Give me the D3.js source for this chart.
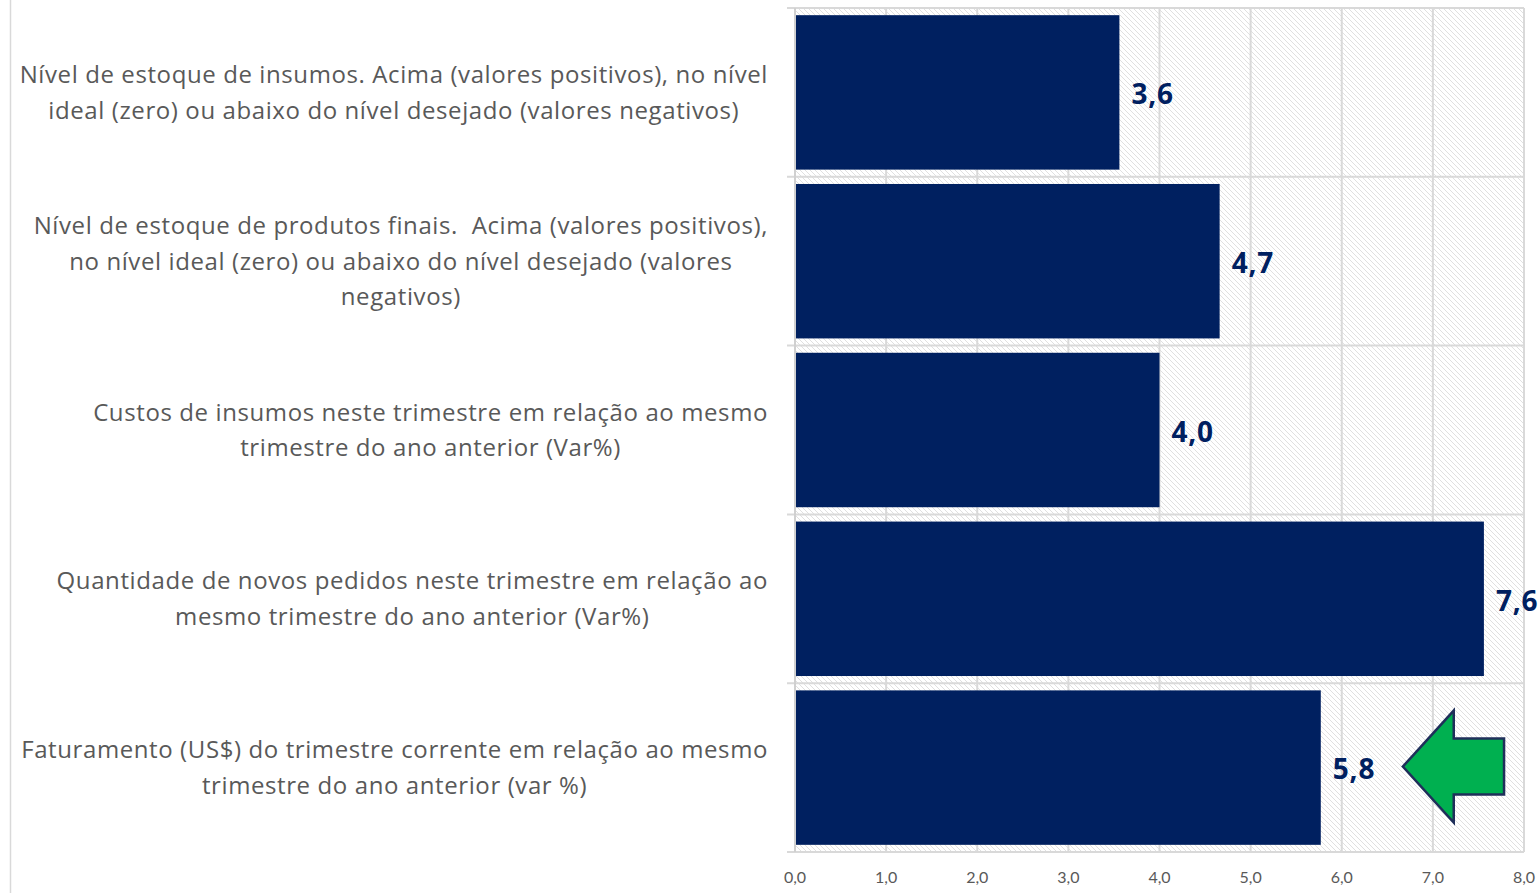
<!DOCTYPE html>
<html><head><meta charset="utf-8">
<script src="https://cdn.jsdelivr.net/npm/d3@7"></script>
<style>body{margin:0;background:#fff;overflow:hidden}</style>
</head><body>
<svg id="c" width="1540" height="893"></svg>
<script>
const categories = [
  ["Nível de estoque de insumos. Acima (valores positivos), no nível","ideal (zero) ou abaixo do nível desejado (valores negativos)"],
  ["Nível de estoque de produtos finais.  Acima (valores positivos),","no nível ideal (zero) ou abaixo do nível desejado (valores","negativos)"],
  ["Custos de insumos neste trimestre em relação ao mesmo","trimestre do ano anterior (Var%)"],
  ["Quantidade de novos pedidos neste trimestre em relação ao","mesmo trimestre do ano anterior (Var%)"],
  ["Faturamento (US$) do trimestre corrente em relação ao mesmo","trimestre do ano anterior (var %)"]
];
const values = [3.56, 4.66, 4.0, 7.56, 5.77];
const tickValues = [0,1,2,3,4,5,6,7,8];
const tickLabels = ["0,0","1,0","2,0","3,0","4,0","5,0","6,0","7,0","8,0"];
const highlightIndex = 4;

const svg = d3.select("#c");
const L = 795, R = 1524, T = 8, B = 852;
const x = d3.scaleLinear().domain([0,8]).range([L,R]);
const y = d3.scaleBand().domain(d3.range(categories.length)).range([T,B]).paddingInner(0.085).paddingOuter(0.0425);
const yb = d3.scaleBand().domain(d3.range(categories.length)).range([T,B]);

const defs = svg.append("defs");
const pat = defs.append("pattern").attr("id","hatch").attr("patternUnits","userSpaceOnUse")
  .attr("width",5).attr("height",5);
pat.append("rect").attr("width",5).attr("height",5).attr("fill","#fff");
pat.append("path").attr("d","M-1,-1 L6,6 M-1,4 L1,6 M4,-1 L6,1").attr("stroke","#e0e0e0").attr("stroke-width",1);

svg.append("line").attr("x1",10.5).attr("x2",10.5).attr("y1",0).attr("y2",893).attr("stroke","#d9d9d9").attr("stroke-width",1.5);

svg.append("rect").attr("x",L).attr("y",T).attr("width",R-L).attr("height",B-T).attr("fill","url(#hatch)");

svg.append("g").selectAll("line").data(tickValues.slice(1)).join("line")
  .attr("x1",d=>x(d)).attr("x2",d=>x(d)).attr("y1",T).attr("y2",B)
  .attr("stroke","#d9d9d9").attr("stroke-width",2);
svg.append("line").attr("x1",L).attr("x2",R).attr("y1",T).attr("y2",T).attr("stroke","#d9d9d9").attr("stroke-width",2);
svg.append("line").attr("x1",L).attr("x2",R).attr("y1",B).attr("y2",B).attr("stroke","#d9d9d9").attr("stroke-width",2);
const bounds = d3.range(categories.length+1).map(i => i<categories.length ? yb(i) : B);
svg.append("g").selectAll("line").data(bounds).join("line")
  .attr("x1",787).attr("x2",R).attr("y1",d=>d).attr("y2",d=>d)
  .attr("stroke","#d9d9d9").attr("stroke-width",2);

svg.append("g").selectAll("rect").data(values).join("rect")
  .attr("x",x(0)).attr("y",(d,i)=>y(i)).attr("width",d=>x(d)-x(0)).attr("height",y.bandwidth())
  .attr("fill","#002060");

svg.append("line").attr("x1",L).attr("x2",L).attr("y1",T).attr("y2",B).attr("stroke","#d0d0d0").attr("stroke-width",2);

svg.append("g").selectAll("text").data(values).join("text")
  .attr("x",d=>x(d)+12).attr("y",(d,i)=>yb(i)+yb.bandwidth()/2+2)
  .attr("dy","0.35em")
  .attr("font-family","'Open Sans', sans-serif").attr("font-weight","bold").attr("font-size",28)
  .attr("letter-spacing",0.8)
  .attr("fill","#002060").text(d=>d.toFixed(1).replace(".",","));

svg.append("g").selectAll("text").data(tickValues).join("text")
  .attr("x",d=>x(d)).attr("y",877).attr("dy","0.35em").attr("text-anchor","middle")
  .attr("font-family","'Liberation Sans Narrow', Lato, sans-serif").attr("font-size",16)
  .attr("fill","#595959").text((d,i)=>tickLabels[i]);

const lh = 35.5;
const catG = svg.append("g").attr("font-family","'Open Sans', sans-serif").attr("font-size",24)
  .attr("letter-spacing",0.6).attr("fill","#595959");
categories.forEach((lines,i)=>{
  const g = catG.append("g");
  const texts = g.selectAll("text").data(lines).join("text")
    .attr("xml:space","preserve").style("white-space","pre")
    .attr("text-anchor","middle")
    .attr("y",(d,j)=>yb(i)+yb.bandwidth()/2 + (j-(lines.length-1)/2)*lh)
    .attr("dy","0.35em").text(d=>d);
  let maxW = 0;
  texts.each(function(){ maxW = Math.max(maxW, this.getComputedTextLength()); });
  texts.attr("x", 768 - maxW/2);
});

const cy = yb(highlightIndex)+yb.bandwidth()/2 - 1;
const ax0 = x(6.6703), ah = x(7.229), ax1 = x(7.781);
svg.append("path")
  .attr("d",`M${ax0},${cy} L${ah},${cy-56} L${ah},${cy-28} L${ax1},${cy-28} L${ax1},${cy+28} L${ah},${cy+28} L${ah},${cy+56} Z`)
  .attr("fill","#00b050").attr("stroke","#1f2f5a").attr("stroke-width",2.5).attr("stroke-linejoin","miter");
</script>
</body></html>
